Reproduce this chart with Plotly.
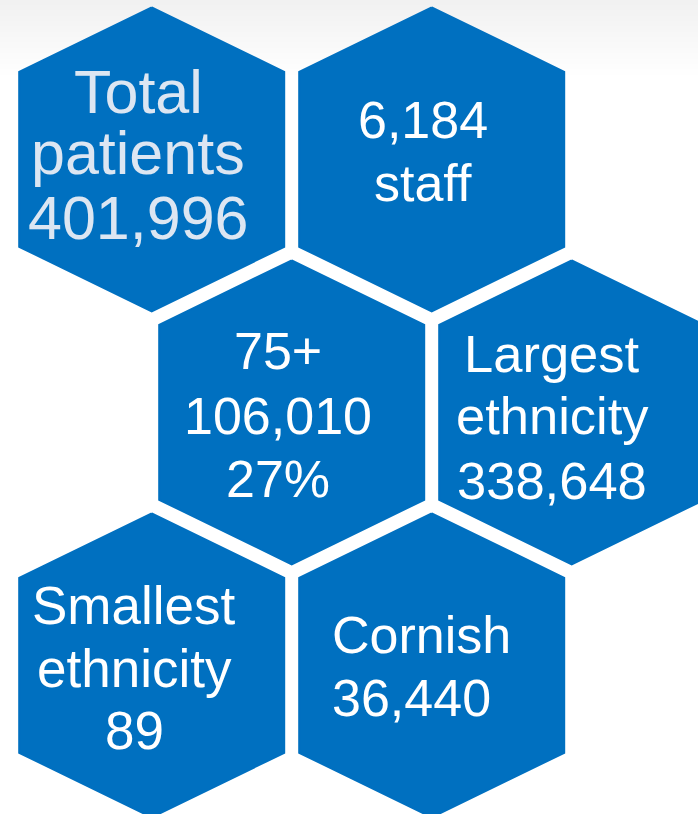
import plotly.graph_objects as go

# ---------------- data ----------------
total_patients = 401996
staff_count = 6184
age75_count = 106010
age75_pct = 27
largest_ethnicity = 338648
smallest_ethnicity = 89
cornish_count = 36440

tile_headings = [["Total", "patients"], [], ["75+"], ["Largest", "ethnicity"],
                 ["Smallest", "ethnicity"], ["Cornish"]]
tile_values = [[f"{total_patients:,}"], [f"{staff_count:,}", "staff"],
               [f"{age75_count:,}", f"{age75_pct}%"], [f"{largest_ethnicity:,}"],
               [f"{smallest_ethnicity:,}"], [f"{cornish_count:,}"]]

# ---------------- layout constants ----------------
W, H = 698, 814
BLUE = "#0070C0"
grid = [(0, 0), (1, 0), (0, 1), (1, 1), (0, 2), (1, 2)]  # (col,row)
X0, Y0, DX, DY, ROWSHIFT = 151.7, 7.3, 280.0, 253.0, 140.0
HW, SH, SIDE = 132.5, 64.5, 175.0

# text placement per tile: x, baselines, font size, align, color
text_style = [
    dict(x=138, base=[112, 173, 238], size=61, align="center", color="#DCE6F2"),
    dict(x=423, base=[137, 200], size=52, align="center", color="white"),
    dict(x=278, base=[368, 433, 496], size=52, align="center", color="white"),
    dict(x=552, base=[370, 432, 497], size=52.5, align="center", color="white"),
    dict(x=134, base=[622, 685, 747], size=53, align="center", color="white"),
    dict(x=331, base=[652, 715], size=52, align="left", color="white"),
]

fig = go.Figure()

for i, (c, r) in enumerate(grid):
    cx = X0 + c * DX + (ROWSHIFT if r % 2 == 1 else 0)
    ty = Y0 + r * DY
    xs = [cx, cx + HW, cx + HW, cx, cx - HW, cx - HW, cx]
    ys = [ty, ty + SH, ty + SH + SIDE, ty + 2 * SH + SIDE, ty + SH + SIDE, ty + SH, ty]
    fig.add_trace(go.Scatter(x=xs, y=ys, fill="toself", fillcolor=BLUE, mode="lines",
                             line=dict(color=BLUE, width=2), hoverinfo="skip",
                             showlegend=False))

annotations = []
for i in range(len(grid)):
    lines = tile_headings[i] + tile_values[i]
    st = text_style[i]
    for j, line in enumerate(lines):
        b = st["base"][j]
        annotations.append(dict(
            x=st["x"], y=b - 0.32 * st["size"], xref="x", yref="y",
            text=line, showarrow=False,
            xanchor="center" if st["align"] == "center" else "left",
            yanchor="middle", borderpad=0,
            font=dict(family="Liberation Sans, Arial, sans-serif", size=st["size"],
                      color=st["color"])))

# subtle grey gradient at the top of the slide background
shapes = []
N = 14
for k in range(N):
    shapes.append(dict(type="rect", xref="paper", yref="y", x0=0, x1=1,
                       y0=0, y1=75 * (k + 1) / N, line=dict(width=0),
                       fillcolor="rgba(0,0,0,0.0042)", layer="below"))

fig.update_layout(
    width=W, height=H, margin=dict(l=0, r=0, t=0, b=0),
    paper_bgcolor="white", plot_bgcolor="white",
    xaxis=dict(range=[0, W], visible=False, fixedrange=True),
    yaxis=dict(range=[H, 0], visible=False, fixedrange=True),
    annotations=annotations, shapes=shapes, hovermode=False,
)

fig.write_html("out.html", config={"displayModeBar": False},
               post_script="document.body.style.margin='0';document.body.style.overflow='hidden';")
